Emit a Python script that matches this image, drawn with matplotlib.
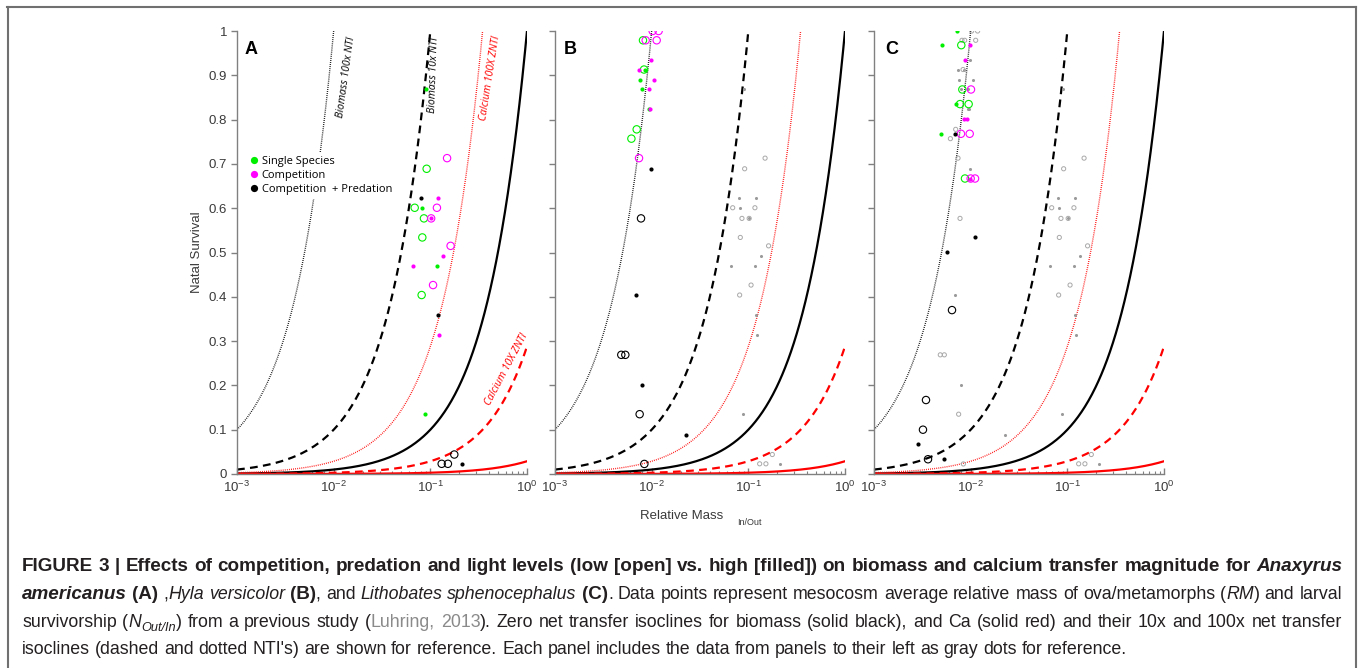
import matplotlib
matplotlib.use('Agg')
import matplotlib.pyplot as plt
import numpy as np
import pandas as pd
from matplotlib.lines import Line2D
from matplotlib.ticker import LogLocator, NullFormatter, FixedLocator
from matplotlib.font_manager import FontProperties

plt.rcParams['font.family'] = ['Liberation Sans', 'DejaVu Sans']
plt.rcParams['mathtext.fontset'] = 'custom'
plt.rcParams['mathtext.rm'] = 'Liberation Sans'
plt.rcParams['mathtext.it'] = 'Liberation Sans:italic'
plt.rcParams['mathtext.bf'] = 'Liberation Sans:bold'

W, H = 1360, 668

# ---- data (relative mass, natal survival) ----
# group: S = single species, C = competition, P = competition + predation
# open: 1 = low light (open circle), 0 = high light (filled)
A_X = [0.0902, 0.149, 0.0916, 0.0807, 0.119, 0.0689, 0.0813, 0.117, 0.0859, 0.102,
       0.102, 0.0826, 0.162, 0.0656, 0.117, 0.135, 0.1067, 0.0813, 0.119, 0.124,
       0.0887, 0.177, 0.131, 0.152, 0.213]
A_Y = [0.868, 0.713, 0.689, 0.623, 0.623, 0.601, 0.601, 0.601, 0.577, 0.577,
       0.577, 0.534, 0.515, 0.470, 0.470, 0.492, 0.4265, 0.404, 0.358, 0.314,
       0.135, 0.044, 0.023, 0.023, 0.023]
A_GROUP = ['S', 'C', 'S', 'P', 'C', 'S', 'S', 'C', 'S', 'C',
           'C', 'S', 'C', 'C', 'S', 'C', 'C', 'S', 'P', 'C',
           'S', 'P', 'P', 'P', 'P']
A_OPEN = [0, 1, 1, 0, 0, 1, 0, 1, 1, 1,
          0, 1, 1, 0, 0, 0, 1, 1, 0, 0,
          0, 1, 1, 1, 0]

B_X = [0.01024, 0.0118, 0.00813, 0.00867, 0.01127, 0.00977, 0.00734, 0.00834, 0.00859,
       0.00764, 0.01057, 0.0080, 0.00931, 0.0093, 0.0097, 0.0070, 0.00617, 0.0074,
       0.00977, 0.00776, 0.00689, 0.00485, 0.00534, 0.00788, 0.00751, 0.02265, 0.0084]
B_Y = [1.0, 1.0, 0.979, 0.979, 0.979, 0.935, 0.913, 0.913, 0.913,
       0.889, 0.889, 0.868, 0.868, 0.823, 0.823, 0.778, 0.757, 0.713,
       0.689, 0.577, 0.404, 0.269, 0.269, 0.201, 0.135, 0.0886, 0.0227]
B_GROUP = ['C', 'C', 'S', 'C', 'C', 'C', 'C', 'S', 'S',
           'S', 'C', 'S', 'C', 'S', 'C', 'S', 'S', 'C',
           'P', 'P', 'P', 'P', 'P', 'P', 'P', 'P', 'P']
B_OPEN = [1, 1, 1, 1, 1, 0, 0, 1, 0,
          0, 0, 0, 0, 0, 0, 1, 1, 1,
          0, 1, 0, 1, 1, 0, 1, 0, 1]

C_X = [0.00716, 0.00501, 0.0080, 0.00984, 0.00881, 0.00820, 0.01008, 0.00705, 0.00776,
       0.00953, 0.00853, 0.0091, 0.00497, 0.00694, 0.00794, 0.00977, 0.00873, 0.00984,
       0.0100, 0.0111, 0.01099, 0.00569, 0.00641, 0.00345, 0.00321, 0.00285, 0.00362, 0.0053]
C_Y = [1.0, 0.968, 0.968, 0.968, 0.935, 0.868, 0.868, 0.835, 0.835,
       0.835, 0.8015, 0.8015, 0.768, 0.768, 0.768, 0.768, 0.667, 0.667,
       0.667, 0.667, 0.534, 0.502, 0.370, 0.167, 0.100, 0.0667, 0.0333, 0.0333]
C_GROUP = ['S', 'S', 'S', 'C', 'C', 'S', 'C', 'S', 'S',
           'S', 'C', 'C', 'S', 'P', 'C', 'C', 'S', 'C',
           'C', 'C', 'P', 'P', 'P', 'P', 'P', 'P', 'P', 'P']
C_OPEN = [0, 0, 1, 0, 0, 1, 1, 0, 1,
          1, 0, 0, 0, 0, 1, 1, 1, 0,
          1, 1, 0, 0, 1, 1, 1, 0, 1, 0]

# isoclines: survival = slope * multiplier * relative mass
ISO_SLOPES = {'biomass': 1.0, 'calcium': 0.0288}
ISO_MULTS = [1, 10, 100]

GROUP_LABELS = {'S': 'Single Species', 'C': 'Competition', 'P': 'Competition  + Predation'}
GROUP_COLORS = {'S': '#00ee00', 'C': '#ff00ff', 'P': '#000000'}
PANEL_LETTERS = ['A', 'B', 'C']
YTICKS = [0, 0.1, 0.2, 0.3, 0.4, 0.5, 0.6, 0.7, 0.8, 0.9, 1]
YTICK_LABELS = ['0', '0.1', '0.2', '0.3', '0.4', '0.5', '0.6', '0.7', '0.8', '0.9', '1']
XTICKS = [1e-3, 1e-2, 1e-1, 1e0]
XTICK_LABELS = [r'$10^{-3}$', r'$10^{-2}$', r'$10^{-1}$', r'$10^{0}$']

dfa = pd.DataFrame({'x': A_X, 'y': A_Y, 'g': A_GROUP, 'open': A_OPEN})
dfb = pd.DataFrame({'x': B_X, 'y': B_Y, 'g': B_GROUP, 'open': B_OPEN})
dfc = pd.DataFrame({'x': C_X, 'y': C_Y, 'g': C_GROUP, 'open': C_OPEN})
panels = [(dfa, None), (dfb, dfa), (dfc, pd.concat([dfa, dfb]))]

fig = plt.figure(figsize=(W / 100, H / 100), dpi=100)

ax_left_px = [237, 555, 874]
ax_w_px = 290
ax_top_px, ax_bot_px = 31, 474

xs = np.logspace(-3, 0, 500)
line_styles = {1: '-', 10: (0, (3.5, 2.4)), 100: (0, (0.6, 0.9))}
line_widths = {1: 1.6, 10: 1.6, 100: 1.0}

axes = []
for i, (df, gray_df) in enumerate(panels):
    ax = fig.add_axes([ax_left_px[i] / W, 1 - ax_bot_px / H,
                       ax_w_px / W, (ax_bot_px - ax_top_px) / H])
    axes.append(ax)
    ax.set_xscale('log')

    for name, slope in ISO_SLOPES.items():
        col = 'black' if name == 'biomass' else '#ff0000'
        for m in ISO_MULTS:
            ax.plot(xs, slope * m * xs, color=col, ls=line_styles[m],
                    lw=line_widths[m], zorder=2)

    if gray_df is not None:
        g_f = gray_df[gray_df['open'] == 0]
        g_o = gray_df[gray_df['open'] == 1]
        ax.scatter(g_f['x'], g_f['y'], s=5, color='#9a9a9a', lw=0, zorder=3)
        ax.scatter(g_o['x'], g_o['y'], s=9, facecolors='none', edgecolors='#a8a8a8',
                   lw=0.7, zorder=3)

    for g, col in GROUP_COLORS.items():
        sub_o = df[(df['g'] == g) & (df['open'] == 1)]
        sub_f = df[(df['g'] == g) & (df['open'] == 0)]
        ax.scatter(sub_o['x'], sub_o['y'], s=28, facecolors='none', edgecolors=col,
                   lw=0.8, zorder=4)
        ax.scatter(sub_f['x'], sub_f['y'], s=9, color=col, lw=0, zorder=5)

    ax.set_xlim(1e-3, 1)
    ax.set_ylim(0, 1)
    for sp in ['top', 'right']:
        ax.spines[sp].set_visible(False)
    for sp in ['left', 'bottom']:
        ax.spines[sp].set_color('#808080')
        ax.spines[sp].set_linewidth(1.0)

    ax.set_yticks(YTICKS)
    if i == 0:
        ax.set_yticklabels(YTICK_LABELS)
    else:
        ax.set_yticklabels([])
    ax.xaxis.set_major_locator(FixedLocator(XTICKS))
    ax.set_xticklabels(XTICK_LABELS)
    ax.xaxis.set_minor_locator(LogLocator(base=10, subs=np.arange(2, 10), numticks=20))
    ax.xaxis.set_minor_formatter(NullFormatter())
    ax.tick_params(axis='y', direction='out', length=4, width=1, color='#808080',
                   labelsize=9.5, labelcolor='#3a3a3a', pad=3)
    ax.tick_params(axis='x', which='major', direction='in', length=4, width=1,
                   color='#808080', labelsize=9.5, labelcolor='#3a3a3a', pad=4)
    ax.tick_params(axis='x', which='minor', direction='in', length=2.5, width=0.8,
                   color='#808080')
    ax.patch.set_alpha(0)

    lx = [0.047, 0.051, 0.062][i]
    ax.text(lx, 0.958, PANEL_LETTERS[i], transform=ax.transAxes, fontsize=13,
            fontweight='bold', ha='center', va='center', color='black')

# isocline labels in panel A
axA = axes[0]
lab_font = ['Open Sans', 'DejaVu Sans']
axA.text(0.0134, 0.896, 'Biomass 100x NTI', rotation=82, fontsize=7.5, style='italic',
         family=lab_font, ha='center', va='center', rotation_mode='anchor', color='black')
axA.text(0.109, 0.90, 'Biomass 10x NTI', rotation=88, fontsize=7.5, style='italic',
         family=lab_font, ha='center', va='center', rotation_mode='anchor', color='black')
axA.text(0.414, 0.894, 'Calcium 100X ZNTI', rotation=81, fontsize=7.5, style='italic',
         family=lab_font, ha='center', va='center', rotation_mode='anchor', color='#ff0000')
axA.text(0.62, 0.237, 'Calcium 10X ZNTI', rotation=62, fontsize=7.5, style='italic',
         family=lab_font, ha='center', va='center', rotation_mode='anchor', color='#ff0000')

handles = [Line2D([], [], ls='none', marker='o', markersize=5.2, color=c,
                  markeredgewidth=0) for c in GROUP_COLORS.values()]
leg = axA.legend(handles, list(GROUP_LABELS.values()), loc='upper left',
                 bbox_to_anchor=(0.035, 0.725), frameon=True, framealpha=1,
                 facecolor='white', edgecolor='none', fancybox=False,
                 handlelength=0.7, handletextpad=0.3, labelspacing=0.28,
                 borderpad=0.3, borderaxespad=0,
                 prop={'family': lab_font, 'size': 8})
leg.set_zorder(6)

# axis titles
fig.text(197 / W, 1 - 252 / H, 'Natal Survival', rotation=90, ha='center', va='center',
         fontsize=9.5, color='#3a3a3a')
fig.text(640 / W, 1 - 519 / H, 'Relative Mass', ha='left', va='baseline',
         fontsize=9.5, color='#3a3a3a')
fig.text(737 / W, 1 - 525 / H, 'In/Out', ha='left', va='baseline',
         fontsize=6.5, color='#3a3a3a')

# frame around the figure panel
fc = '#707070'
fig.add_artist(Line2D([7.5 / W, 7.5 / W], [0, 1 - 6.5 / H], transform=fig.transFigure,
                      color=fc, lw=1.5))
fig.add_artist(Line2D([7 / W, 1356 / W], [1 - 6.5 / H, 1 - 6.5 / H],
                      transform=fig.transFigure, color=fc, lw=1.5))
fig.add_artist(Line2D([1355.5 / W, 1355.5 / W], [0, 1 - 6.5 / H],
                      transform=fig.transFigure, color=fc, lw=1.5))

# ---- caption (justified, mixed styles) ----
CAPTION = [
    [('FIGURE 3 | Effects of competition, predation and light levels (low [open] vs. '
      'high [filled]) on biomass and calcium transfer magnitude for ', 'b'),
     ('Anaxyrus', 'bi')],
    [('americanus', 'bi'), (' (A)', 'b'), (' ,', 'r'), ('Hyla versicolor', 'i'),
     (' (B)', 'b'), (', and ', 'r'), ('Lithobates sphenocephalus', 'i'), (' (C)', 'b'),
     ('. Data points represent mesocosm average relative mass of ova/metamorphs (', 'r'),
     ('RM', 'i'), (') and larval', 'r')],
    [('survivorship (', 'r'), ('N', 'i'), ('Out/In', 'sub'), (') from a previous study (', 'r'),
     ('Luhring, 2013', 'g'),
     ('). Zero net transfer isoclines for biomass (solid black), and Ca (solid red) and '
      'their 10x and 100x net transfer', 'r')],
    [("isoclines (dashed and dotted NTI's) are shown for reference. Each panel includes "
      'the data from panels to their left as gray dots for reference.', 'r')],
]
CAPTION_BASELINES = [571, 599, 627, 654]
cap_left, cap_right = 22, 1342
CAP_FAMILY = ['Liberation Sans', 'DejaVu Sans']

fig.canvas.draw()
renderer = fig.canvas.get_renderer()
sizes = {'reg': 10.0, 'bold': 10.0}


def make_prop(style):
    bold = style in ('b', 'bi')
    size = sizes['bold'] if bold else sizes['reg']
    sty = 'italic' if style in ('i', 'bi', 'sub') else 'normal'
    if style == 'sub':
        size = size * 0.72
    return FontProperties(family=CAP_FAMILY, weight='bold' if bold else 'normal',
                          style=sty, size=size)


def advance(s, prop):
    w1 = renderer.get_text_width_height_descent('X' + s + 'X', prop, ismath=False)[0]
    w0 = renderer.get_text_width_height_descent('XX', prop, ismath=False)[0]
    return w1 - w0


def split_words(runs):
    words, cur = [], []
    for text, style in runs:
        parts = text.split(' ')
        for k, p in enumerate(parts):
            if k > 0:
                if cur:
                    words.append(cur)
                cur = []
            if p:
                cur.append((p, style))
    if cur:
        words.append(cur)
    return words


def natural_width(words, space_style):
    sp = advance(' ', make_prop(space_style))
    return sum(advance(t, make_prop(s)) for w in words for t, s in w) + sp * (len(words) - 1)


target = cap_right - cap_left
# regular text sized so that the widest regular line fits; bold line sized on its own
w_reg = max(natural_width(split_words(r), 'r') for r in CAPTION[1:3])
sizes['reg'] = 10.0 * (target - 6) / w_reg
sizes['bold'] = sizes['reg']
w_bold = natural_width(split_words(CAPTION[0]), 'b')
sizes['bold'] = min(sizes['reg'] * 1.12, sizes['reg'] * (target - 10) / w_bold)

for li, runs in enumerate(CAPTION):
    words = split_words(runs)
    space_style = 'b' if li == 0 else 'r'
    sp = advance(' ', make_prop(space_style))
    nat = natural_width(words, space_style)
    extra = 0.0
    if li < len(CAPTION) - 1 and len(words) > 1:
        extra = (target - nat) / (len(words) - 1)
    x = cap_left
    yb = CAPTION_BASELINES[li]
    for w in words:
        for t, s in w:
            prop = make_prop(s)
            color = '#8a8a8a' if s == 'g' else '#231f20'
            dy = 4 if s == 'sub' else 0
            fig.text(x / W, 1 - (yb + dy) / H, t, fontproperties=prop, color=color,
                     ha='left', va='baseline')
            x += advance(t, prop)
        x += sp + extra

fig.savefig('out.png', dpi=100)
